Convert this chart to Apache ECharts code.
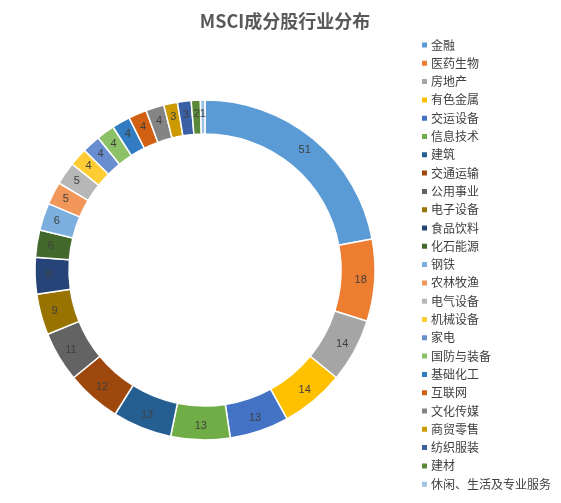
<!DOCTYPE html>
<html><head><meta charset="utf-8">
<script src="https://cdn.jsdelivr.net/npm/echarts@6/dist/echarts.min.js"></script>
<style>html,body{margin:0;padding:0;background:#fff}#c{width:561px;height:503px}</style>
</head><body><div id="c"></div>
<script>
const categories=["金融","医药生物","房地产","有色金属","交运设备","信息技术","建筑","交通运输","公用事业","电子设备","食品饮料","化石能源","钢铁","农林牧渔","电气设备","机械设备","家电","国防与装备","基础化工","互联网","文化传媒","商贸零售","纺织服装","建材","休闲、生活及专业服务"];
const values=[51,18,14,14,13,13,13,12,11,9,8,6,6,5,5,4,4,4,4,4,4,3,3,2,1];
const colors=["#5B9BD5","#ED7D31","#A5A5A5","#FFC000","#4472C4","#70AD47","#255E91","#9E480E","#636363","#997300","#264478","#43682B","#7CAFDD","#F1975A","#B7B7B7","#FFCD33","#698ED0","#8CC168","#327DC2","#D26012","#848484","#CC9A00","#3A5FA5","#5A8A39","#9DC3E6"];
const chart=echarts.init(document.getElementById('c'));
chart.setOption({
  color:colors,
  title:{text:"MSCI成分股行业分布",left:280,top:7,textAlign:'center',textStyle:{fontSize:18,fontWeight:'bold',color:'#595959',fontFamily:'Noto Sans CJK SC'}},
  legend:{orient:'vertical',left:420,top:39,height:480,padding:0,itemWidth:7,itemHeight:7,itemGap:6.3,icon:'rect',
    textStyle:{fontSize:12,lineHeight:12,color:'#404040',fontFamily:'Noto Sans CJK SC',padding:[0,0,0,-2]},data:categories},
  series:[{type:'pie',center:[205,270],radius:[136,170],startAngle:90,clockwise:true,
    itemStyle:{borderColor:'#fff',borderWidth:1.5},
    label:{position:'inside',formatter:'{c}',fontSize:11,color:'#404040'},
    labelLine:{show:false},
    data:categories.map((n,i)=>({name:n,value:values[i]}))}]
});
</script></body></html>
